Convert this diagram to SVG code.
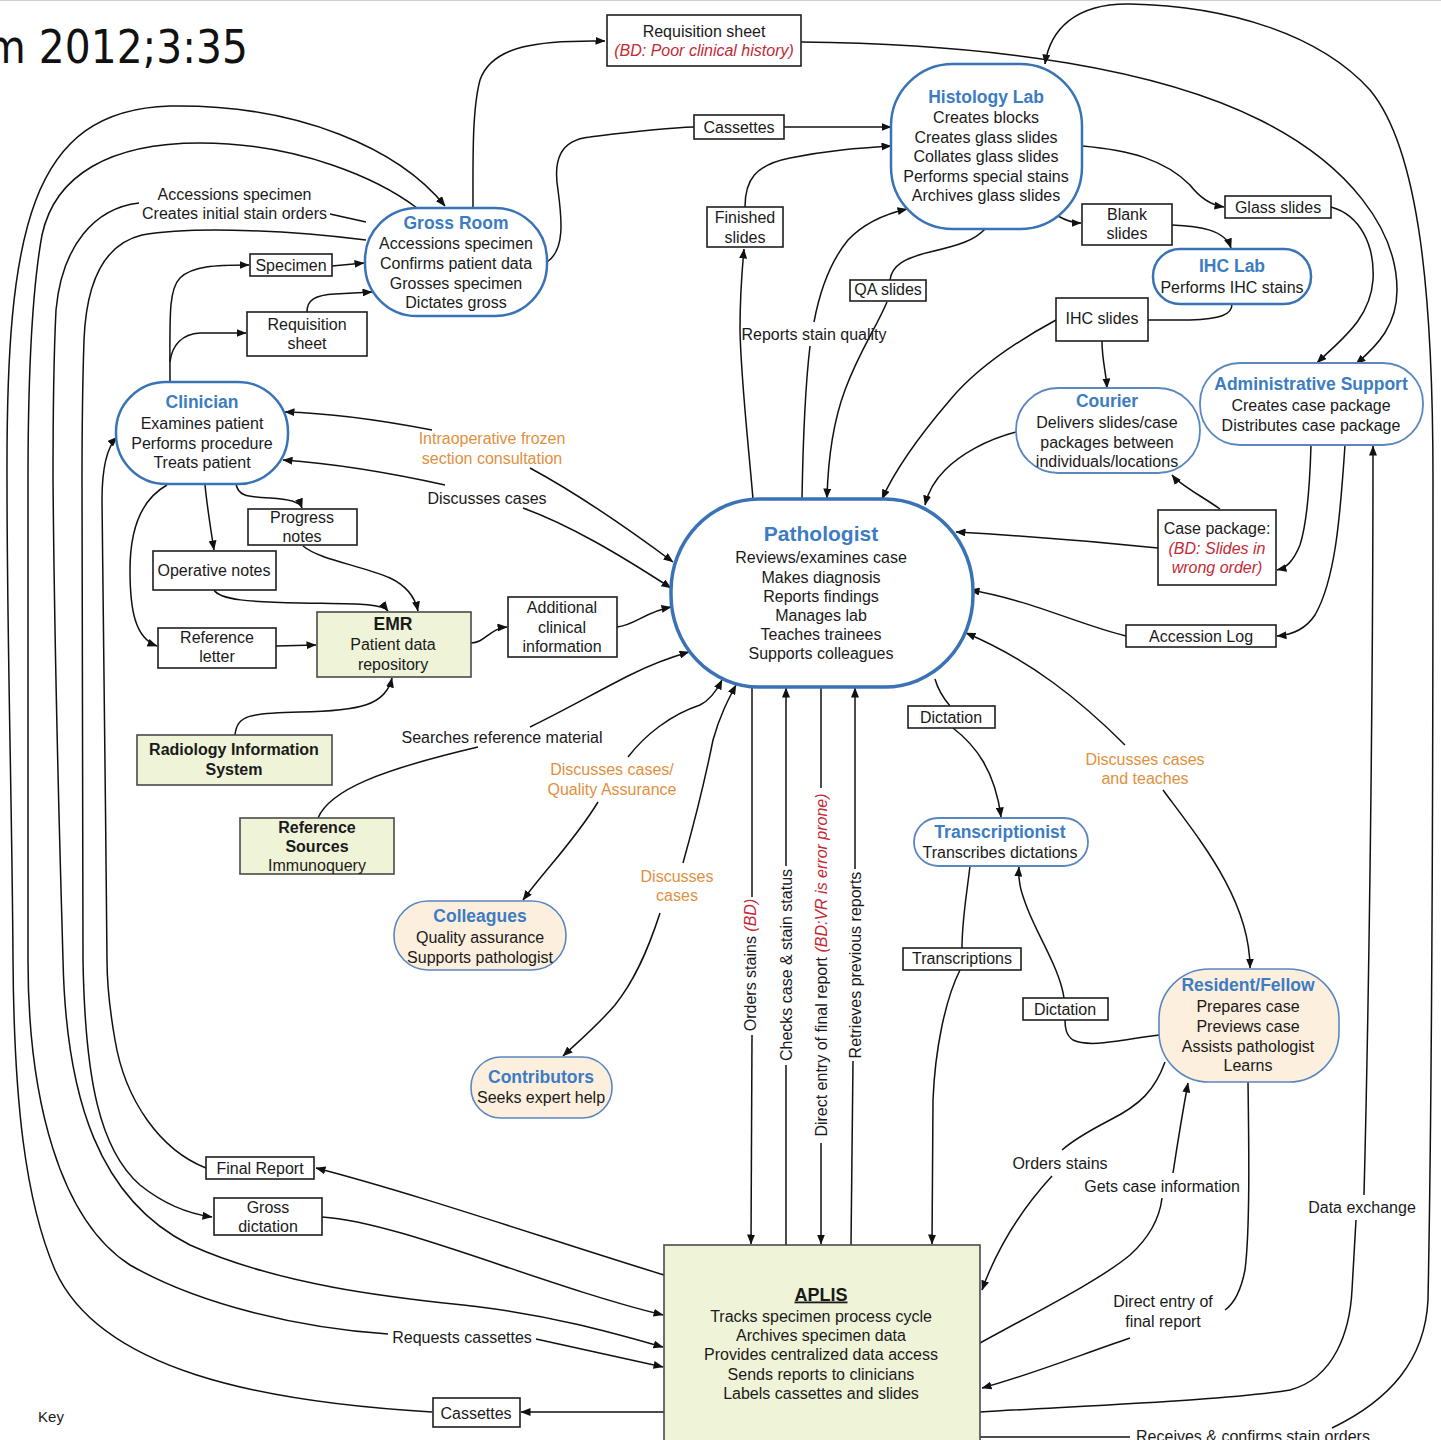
<svg xmlns="http://www.w3.org/2000/svg" width="1441" height="1440" viewBox="0 0 1441 1440">
<defs>
<style>
text{font-family:"Liberation Sans",Arial,sans-serif;font-size:16px;fill:#1a1a1a;text-anchor:middle}
.t{font-weight:bold;font-size:17.5px;fill:#3d7cc2}
.b{font-weight:bold}
.o{fill:#e0903e}
.r{fill:#c42a36;font-style:italic}
.nd{fill:#fff;stroke:#3a73b5;stroke-width:2.5}
.pc{fill:#fcefdd;stroke:#5a87c0;stroke-width:1.6}
.lt{fill:#fff;stroke:#5a87c0;stroke-width:1.8}
.bx{fill:#fff;stroke:#1e1e1e;stroke-width:1.6}
.gn{fill:#eff3d8;stroke:#4a4a4a;stroke-width:1.6}
.ln{fill:none;stroke:#111;stroke-width:1.5}
.ar{marker-end:url(#ah)}
</style>
<marker id="ah" markerUnits="userSpaceOnUse" viewBox="0 0 10 8" refX="9.5" refY="4" markerWidth="10" markerHeight="8" orient="auto"><path d="M0,0L10,4L0,8Z" fill="#111"/></marker>
</defs>
<rect width="1441" height="1440" fill="#fff"/>
<line x1="0" y1="0.5" x2="1441" y2="0.5" stroke="#d0d0d0"/>
<text x="-14" y="63" style="font-family:'DejaVu Sans',sans-serif;font-size:47px;text-anchor:start;fill:#111" textLength="262" lengthAdjust="spacingAndGlyphs">m 2012;3:35</text>

<g id="connectors">
<path class="ln ar" d="M664,1412 L521,1412"/>
<path class="ln ar" d="M432,1412 C260,1402 100,1370 55,1270 C25,1200 14,1100 13,960 C12,800 7,640 7,480 C6,230 30,110 170,106 C300,104 400,150 445,206"/>
<path class="ln" d="M417,208 C380,180 300,143 200,143 C110,143 55,175 42,235 C32,290 28,380 28,480 C28,700 28,850 28,960 C28,1100 60,1220 130,1265 C200,1305 300,1328 388,1334"/>
<path class="ln ar" d="M536,1339 L663,1367"/>
<path class="ln" d="M366,222 L330,214"/>
<path class="ln ar" d="M139,203 C95,208 62,245 56,310 C53,370 53,420 53,480 C55,700 60,850 63,960 C66,1100 100,1200 190,1245 C290,1290 420,1300 480,1307 C560,1317 620,1335 663,1347"/>
<path class="ln ar" d="M366,240 C300,232 200,225 142,235 C100,245 86,290 84,340 C82,400 82,440 82,480 C82,700 83,850 83,960 C85,1080 100,1150 140,1185 C165,1205 190,1214 212,1217"/>
<path class="ln ar" d="M206,1168 C160,1150 125,1100 115,1040 C108,1000 107,980 107,960 C106,800 102,600 102,500 C102,470 106,448 117,437"/>
<path class="ln ar" d="M664,1275 C550,1240 420,1195 316,1168"/>
<path class="ln ar" d="M322,1217 C400,1222 540,1285 663,1315"/>
<path class="ln ar" d="M170,383 C170,320 168,290 180,278 C192,266 215,265 249,265"/>
<path class="ln ar" d="M170,362 C172,345 182,334 200,333 L246,333"/>
<path class="ln ar" d="M332,266 L364,263"/>
<path class="ln ar" d="M307,312 C307,300 315,295 335,294 L372,292"/>
<path class="ln ar" d="M473,208 C473,160 472,110 480,80 C492,45 540,40 605,41"/>
<path class="ln" d="M547,262 C565,250 562,220 558,190 C553,160 560,140 590,137 C630,132 660,128 694,127"/>
<path class="ln ar" d="M784,127 L891,127"/>
<path class="ln ar" d="M745,207 C745,180 755,165 790,158 C830,150 860,148 891,146"/>
<path class="ln ar" d="M753,499 C748,440 741,380 740,330 C740,300 742,270 744,249"/>
<path class="ln" d="M802,499 C803,440 806,380 810,346"/>
<path class="ln ar" d="M814,322 C820,290 830,262 848,240 C865,222 885,214 907,209"/>
<path class="ln" d="M985,229 C975,240 960,245 930,252 C905,258 892,265 890,280"/>
<path class="ln ar" d="M887,302 C875,330 860,350 845,390 C832,425 828,460 827,498"/>
<path class="ln ar" d="M1056,320 C1010,345 975,370 950,400 C920,435 895,470 882,499"/>
<path class="ln ar" d="M1016,432 C985,440 960,455 945,470 C935,480 928,492 925,505"/>
<path class="ln ar" d="M1058,216 C1065,220 1072,223 1081,223"/>
<path class="ln ar" d="M1172,225 C1200,226 1225,230 1231,248"/>
<path class="ln ar" d="M1082,146 C1130,150 1165,160 1190,185 C1200,198 1210,205 1224,207"/>
<path class="ln" d="M1232,304 C1232,315 1220,319 1190,320 L1148,320"/>
<path class="ln ar" d="M1102,341 C1102,360 1106,372 1107,388"/>
<path class="ln ar" d="M1331,207 C1360,215 1375,245 1373,280 C1370,320 1340,340 1317,363"/>
<path class="ln ar" d="M801,42 C1000,44 1160,70 1260,120 C1350,165 1397,230 1397,290 C1397,325 1378,345 1356,364"/>
<path class="ln" d="M980,1437 L1130,1437"/>
<path class="ln ar" d="M1332,1428 C1390,1400 1425,1360 1428,1300 C1432,1100 1433,800 1433,480 C1433,300 1420,150 1370,90 C1320,35 1230,6 1130,4 C1075,3 1050,30 1045,64"/>
<path class="ln" d="M980,1412 C1100,1405 1230,1400 1290,1390 C1335,1378 1350,1330 1352,1290 L1356,1220"/>
<path class="ln ar" d="M1364,1195 C1369,1000 1373,700 1373,446"/>
<path class="ln ar" d="M1311,445 C1310,480 1308,520 1300,545 C1293,562 1286,568 1277,570"/>
<path class="ln ar" d="M1345,445 C1340,520 1335,580 1315,615 C1305,630 1291,635 1277,636"/>
<path class="ln ar" d="M1158,548 C1080,540 1010,535 956,532"/>
<path class="ln ar" d="M1220,509 C1200,495 1180,485 1172,475"/>
<path class="ln ar" d="M1126,636 C1080,625 1030,600 970,590"/>
<path class="ln ar" d="M1125,745 C1080,700 1030,660 966,633"/>
<path class="ln ar" d="M1163,790 C1200,840 1250,900 1250,968"/>
<path class="ln" d="M935,679 C938,690 945,700 950,706"/>
<path class="ln ar" d="M953,728 C975,745 995,770 1001,817"/>
<path class="ln" d="M970,866 C966,900 962,920 962,948"/>
<path class="ln ar" d="M960,970 C945,1000 935,1050 933,1100 L932,1244"/>
<path class="ln" d="M1159,1035 C1120,1040 1090,1048 1073,1040 C1066,1035 1065,1028 1065,1020"/>
<path class="ln ar" d="M1064,998 C1060,970 1040,940 1028,910 C1020,890 1018,880 1019,867"/>
<path class="ln" d="M1165,1062 C1155,1090 1140,1105 1110,1120 C1085,1133 1070,1143 1062,1150"/>
<path class="ln ar" d="M1052,1176 C1030,1200 1000,1240 982,1290"/>
<path class="ln" d="M980,1343 C1040,1310 1100,1280 1130,1255 C1152,1235 1160,1215 1162,1198"/>
<path class="ln ar" d="M1173,1173 C1178,1140 1183,1110 1188,1083"/>
<path class="ln" d="M1248,1082 C1249,1150 1250,1230 1245,1270 C1240,1295 1232,1305 1225,1310"/>
<path class="ln ar" d="M1130,1338 C1080,1355 1030,1375 982,1388"/>
<path class="ln" d="M752,688 L752,897"/>
<path class="ln ar" d="M752,1035 L751,1244"/>
<path class="ln" d="M786,1245 L786,1065"/>
<path class="ln ar" d="M786,866 L786,688"/>
<path class="ln" d="M821,688 L821,788"/>
<path class="ln ar" d="M821,1143 L821,1244"/>
<path class="ln" d="M851,1245 L853,1061"/>
<path class="ln ar" d="M855,869 L855,688"/>
<path class="ln ar" d="M432,430 C380,420 330,413 285,412"/>
<path class="ln ar" d="M530,468 C580,495 630,530 673,562"/>
<path class="ln ar" d="M445,485 C400,475 340,464 283,460"/>
<path class="ln ar" d="M523,508 C570,525 620,555 671,588"/>
<path class="ln ar" d="M617,627 C635,625 645,612 671,607"/>
<path class="ln ar" d="M471,643 C485,643 490,628 507,627"/>
<path class="ln" d="M318,818 C330,790 380,770 478,747"/>
<path class="ln ar" d="M530,727 C565,710 600,690 630,675 C650,665 668,658 689,652"/>
<path class="ln ar" d="M628,757 C645,735 670,715 700,705 C710,700 716,692 722,680"/>
<path class="ln ar" d="M598,802 C575,840 545,870 523,900"/>
<path class="ln ar" d="M683,863 C695,820 705,780 713,740 C720,715 728,700 736,685"/>
<path class="ln ar" d="M660,913 C648,950 635,980 615,1005 C598,1025 580,1040 563,1056"/>
<path class="ln ar" d="M167,485 C140,500 130,530 130,570 C130,610 135,638 157,646"/>
<path class="ln ar" d="M205,485 C207,505 210,525 214,550"/>
<path class="ln ar" d="M236,484 C238,495 245,497 270,498 C290,499 300,502 302,508"/>
<path class="ln ar" d="M303,546 C320,560 360,565 390,578 C405,585 415,597 418,611"/>
<path class="ln ar" d="M214,590 C220,600 250,602 300,603 C350,604 382,603 388,611"/>
<path class="ln ar" d="M276,646 L316,645"/>
<path class="ln ar" d="M235,735 C237,715 250,713 300,712 C360,711 386,705 392,678"/>

<text x="234.5" y="199.5">Accessions specimen</text>
<text x="234.5" y="219">Creates initial stain orders</text>
<text class="o" x="492" y="444">Intraoperative frozen</text>
<text class="o" x="492" y="463.5">section consultation</text>
<text x="487" y="503.5">Discusses cases</text>
<text x="814" y="339.5">Reports stain quality</text>
<text x="502" y="742.5">Searches reference material</text>
<text class="o" x="612" y="774.5">Discusses cases/</text>
<text class="o" x="612" y="794.5">Quality Assurance</text>
<text class="o" x="677" y="881.5">Discusses</text>
<text class="o" x="677" y="900.5">cases</text>
<text class="o" x="1145" y="764.5">Discusses cases</text>
<text class="o" x="1145" y="783.5">and teaches</text>
<text x="1060" y="1168.5">Orders stains</text>
<text x="1162" y="1191.5">Gets case information</text>
<text x="1362" y="1212.5">Data exchange</text>
<text x="1163" y="1306.5">Direct entry of</text>
<text x="1163" y="1326.5">final report</text>
<text x="462" y="1342.5">Requests cassettes</text>
<text x="1253" y="1442">Receives &amp; confirms stain orders</text>
<text transform="translate(755.5,965) rotate(-90)">Orders stains <tspan class="r">(BD)</tspan></text>
<text transform="translate(791.5,965) rotate(-90)">Checks case &amp; stain status</text>
<text transform="translate(826.5,965) rotate(-90)">Direct entry of final report <tspan class="r">(BD:VR is error prone)</tspan></text>
<text transform="translate(860.5,965) rotate(-90)">Retrieves previous reports</text>
</g>

<g id="gross-room"><rect class="nd" x="365" y="208" width="182" height="108" rx="52"/>
<text class="t" x="456" y="229">Gross Room</text>
<text x="456" y="248.5">Accessions specimen</text><text x="456" y="268.5">Confirms patient data</text><text x="456" y="288.5">Grosses specimen</text><text x="456" y="307.5">Dictates gross</text></g>

<g id="clinician"><rect class="nd" x="116" y="382" width="172" height="102" rx="50"/>
<text class="t" x="202" y="408">Clinician</text>
<text x="202" y="428.5">Examines patient</text><text x="202" y="448.5">Performs procedure</text><text x="202" y="467.5">Treats patient</text></g>

<g id="histology-lab"><rect class="nd" x="891" y="64" width="191" height="165" rx="62"/>
<text class="t" x="986" y="103">Histology Lab</text>
<text x="986" y="122.5">Creates blocks</text><text x="986" y="142.5">Creates glass slides</text><text x="986" y="161.5">Collates glass slides</text><text x="986" y="181.5">Performs special stains</text><text x="986" y="200.5">Archives glass slides</text></g>

<g id="ihc-lab"><rect class="nd" x="1153" y="249" width="158" height="55" rx="27"/>
<text class="t" x="1232" y="272">IHC Lab</text><text x="1232" y="292.5">Performs IHC stains</text></g>

<g id="courier"><rect class="lt" x="1016" y="388" width="184" height="85" rx="42"/>
<text class="t" x="1107" y="407">Courier</text>
<text x="1107" y="427.5">Delivers slides/case</text><text x="1107" y="447.5">packages between</text><text x="1107" y="466.5">individuals/locations</text></g>

<g id="admin-support"><rect class="lt" x="1200" y="363" width="223" height="82" rx="40"/>
<text class="t" x="1311" y="390">Administrative Support</text>
<text x="1311" y="410.5">Creates case package</text><text x="1311" y="430.5">Distributes case package</text></g>

<g id="pathologist"><rect class="nd" style="stroke-width:3.5" x="671" y="499" width="302" height="188" rx="88" ry="92"/>
<text class="t" style="font-size:21px" x="821" y="541">Pathologist</text>
<text x="821" y="562.5">Reviews/examines case</text><text x="821" y="582.5">Makes diagnosis</text><text x="821" y="601.5">Reports findings</text><text x="821" y="620.5">Manages lab</text><text x="821" y="639.5">Teaches trainees</text><text x="821" y="658.5">Supports colleagues</text></g>

<g id="transcriptionist"><rect class="lt" x="914" y="818" width="174" height="48" rx="24"/>
<text class="t" x="1000" y="838">Transcriptionist</text><text x="1000" y="857.5">Transcribes dictations</text></g>

<g id="colleagues"><rect class="pc" x="394" y="901" width="172" height="69" rx="34"/>
<text class="t" x="480" y="922">Colleagues</text><text x="480" y="942.5">Quality assurance</text><text x="480" y="962.5">Supports pathologist</text></g>

<g id="contributors"><rect class="pc" x="471" y="1057" width="141" height="61" rx="30"/>
<text class="t" x="541" y="1083">Contributors</text><text x="541" y="1102.5">Seeks expert help</text></g>

<g id="resident-fellow"><rect class="pc" x="1159" y="969" width="180" height="113" rx="50"/>
<text class="t" x="1248" y="991">Resident/Fellow</text>
<text x="1248" y="1011.5">Prepares case</text><text x="1248" y="1031.5">Previews case</text><text x="1248" y="1051.5">Assists pathologist</text><text x="1248" y="1070.5">Learns</text></g>

<g id="aplis"><rect class="gn" x="664" y="1245" width="316" height="210"/>
<text class="b" style="font-size:18px;text-decoration:underline" x="821" y="1300.5">APLIS</text>
<text x="821" y="1321.5">Tracks specimen process cycle</text><text x="821" y="1340.5">Archives specimen data</text><text x="821" y="1359.5">Provides centralized data access</text><text x="821" y="1379.5">Sends reports to clinicians</text><text x="821" y="1398.5">Labels cassettes and slides</text></g>

<g id="emr"><rect class="gn" x="317" y="612" width="154" height="65"/>
<text class="b" style="font-size:17.5px" x="393" y="630">EMR</text><text x="393" y="649.5">Patient data</text><text x="393" y="669.5">repository</text></g>

<g id="radiology-is"><rect class="gn" x="137" y="735" width="195" height="50"/>
<text class="b" x="234" y="754.5">Radiology Information</text><text class="b" x="234" y="774.5">System</text></g>

<g id="reference-sources"><rect class="gn" x="240" y="818" width="154" height="56"/>
<text class="b" x="317" y="832.5">Reference</text><text class="b" x="317" y="851.5">Sources</text><text x="317" y="871">Immunoquery</text></g>

<g id="additional-info"><rect class="bx" x="508" y="597" width="109" height="60"/>
<text x="562" y="612.5">Additional</text><text x="562" y="632.5">clinical</text><text x="562" y="651.5">information</text></g>

<g id="progress-notes"><rect class="bx" x="248" y="509" width="109" height="36"/>
<text x="302" y="522.5">Progress</text><text x="302" y="542">notes</text></g>

<g id="operative-notes"><rect class="bx" x="153" y="551" width="123" height="39"/>
<text x="214" y="575.5">Operative notes</text></g>

<g id="reference-letter"><rect class="bx" x="158" y="628" width="118" height="40"/>
<text x="217" y="642.5">Reference</text><text x="217" y="662">letter</text></g>

<g id="specimen"><rect class="bx" x="250" y="254" width="82" height="22"/>
<text x="291" y="270.5">Specimen</text></g>

<g id="requisition-left"><rect class="bx" x="247" y="312" width="120" height="44"/>
<text x="307" y="329.5">Requisition</text><text x="307" y="348.5">sheet</text></g>

<g id="requisition-top"><rect class="bx" x="607" y="15" width="194" height="51"/>
<text x="704" y="36.5">Requisition sheet</text><text class="r" x="704" y="55.5">(BD: Poor clinical history)</text></g>

<g id="cassettes-top"><rect class="bx" x="694" y="115" width="90" height="24"/>
<text x="739" y="132.5">Cassettes</text></g>

<g id="finished-slides"><rect class="bx" x="707" y="207" width="76" height="40"/>
<text x="745" y="222.5">Finished</text><text x="745" y="242.5">slides</text></g>

<g id="qa-slides"><rect class="bx" x="850" y="280" width="76" height="21"/>
<text x="888" y="295">QA slides</text></g>

<g id="blank-slides"><rect class="bx" x="1082" y="204" width="90" height="41"/>
<text x="1127" y="219.5">Blank</text><text x="1127" y="238.5">slides</text></g>

<g id="glass-slides"><rect class="bx" x="1225" y="196" width="106" height="22"/>
<text x="1278" y="212.5">Glass slides</text></g>

<g id="ihc-slides"><rect class="bx" x="1056" y="298" width="92" height="43"/>
<text x="1102" y="324">IHC slides</text></g>

<g id="case-package"><rect class="bx" x="1158" y="510" width="118" height="75"/>
<text x="1217" y="533.5">Case package:</text><text class="r" x="1217" y="553.5">(BD: Slides in</text><text class="r" x="1217" y="572.5">wrong order)</text></g>

<g id="accession-log"><rect class="bx" x="1126" y="625" width="150" height="22"/>
<text x="1201" y="641.5">Accession Log</text></g>

<g id="dictation-1"><rect class="bx" x="908" y="706" width="87" height="22"/>
<text x="951" y="722.5">Dictation</text></g>

<g id="transcriptions"><rect class="bx" x="903" y="948" width="118" height="22"/>
<text x="962" y="964">Transcriptions</text></g>

<g id="dictation-2"><rect class="bx" x="1023" y="998" width="85" height="22"/>
<text x="1065" y="1014.5">Dictation</text></g>

<g id="final-report"><rect class="bx" x="206" y="1157" width="108" height="22"/>
<text x="260" y="1173.5">Final Report</text></g>

<g id="gross-dictation"><rect class="bx" x="214" y="1198" width="108" height="37"/>
<text x="268" y="1212.5">Gross</text><text x="268" y="1231.5">dictation</text></g>

<g id="cassettes-bottom"><rect class="bx" x="433" y="1398" width="87" height="29"/>
<text x="476" y="1418.5">Cassettes</text></g>

<text x="51" y="1421.5" style="font-size:15px">Key</text>
</svg>
